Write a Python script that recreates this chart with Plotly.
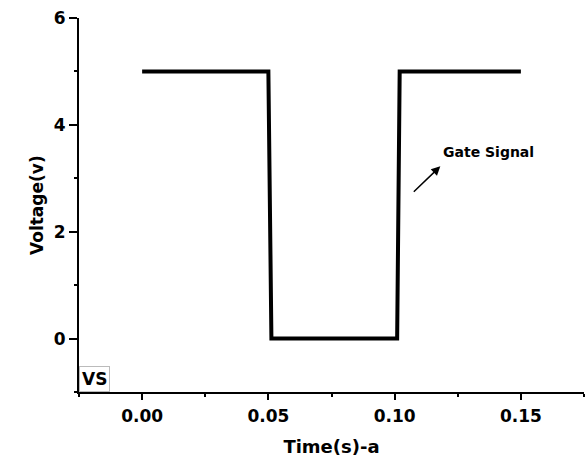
import plotly.graph_objects as go

time_s = [0.0, 0.05, 0.0512, 0.101, 0.102, 0.15]
voltage = [5, 5, 0, 0, 5, 5]

x_ticks = [0.0, 0.05, 0.10, 0.15]
y_ticks = [0, 2, 4, 6]

FONT = "DejaVu Sans"

fig = go.Figure()
fig.add_trace(go.Scatter(x=time_s, y=voltage, mode="lines",
                         line=dict(color="black", width=4), showlegend=False))

axis_common = dict(showgrid=False, zeroline=False, showline=True, linecolor="black",
                   linewidth=2, ticks="outside", tickcolor="black", tickwidth=2,
                   tickfont=dict(family=FONT, size=17, color="black", weight="bold"))

fig.update_xaxes(range=[-0.025, 0.175], tickvals=x_ticks, tickformat=".2f", ticklen=6,
                 minor=dict(dtick=0.025, tick0=0, ticklen=3, tickwidth=2, tickcolor="black", ticks="outside"),
                 title=dict(text="Time(s)-a", font=dict(family=FONT, size=18, color="black", weight="bold"), standoff=15),
                 ticklabelstandoff=2,
                 **axis_common)
fig.update_yaxes(range=[-1, 6], tickvals=y_ticks, ticklen=8,
                 minor=dict(dtick=1, tick0=0, ticklen=3, tickwidth=2, tickcolor="black", ticks="outside"),
                 ticklabelstandoff=0,
                 **axis_common)

fig.add_annotation(x=0, y=0.5, xref="paper", yref="paper", xanchor="center", yanchor="middle",
                   xshift=-42, textangle=-90, text="Voltage(v)", showarrow=False,
                   font=dict(family=FONT, size=17, color="black", weight="bold"))
fig.add_annotation(x=0.1181, y=3.225, ax=0.1070, ay=2.72, xref="x", yref="y", axref="x", ayref="y",
                   text="", showarrow=True, arrowhead=2, arrowsize=1.2, arrowwidth=1.5, arrowcolor="black")
fig.add_annotation(x=0.1371, y=3.49, xref="x", yref="y", text="Gate Signal", showarrow=False,
                   font=dict(family=FONT, size=14, color="black", weight="bold"))
fig.add_annotation(x=0, y=0, xref="paper", yref="paper", xanchor="left", yanchor="bottom",
                   text="VS", showarrow=False, bordercolor="#bbbbbb", borderwidth=1, borderpad=2,
                   font=dict(family=FONT, size=17, color="black", weight="bold"))

fig.update_layout(width=587, height=459, margin=dict(l=79, r=3, t=18, b=67),
                  plot_bgcolor="white", paper_bgcolor="white")

fig.write_html("out.html")
